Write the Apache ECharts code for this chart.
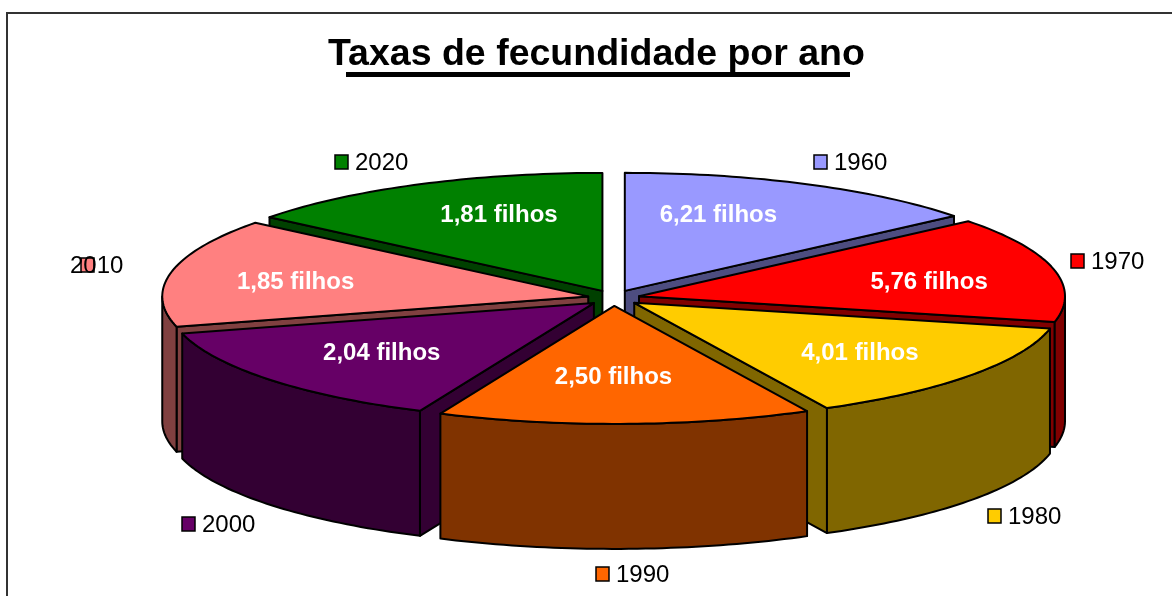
<!DOCTYPE html>
<html>
<head>
<meta charset="utf-8">
<title>Taxas de fecundidade por ano</title>
<style>
  html, body { margin: 0; padding: 0; background: #fff; }
  #chart { width: 1172px; height: 596px; }
</style>
<script src="https://cdn.jsdelivr.net/npm/echarts@6/dist/echarts.min.js"></script>
</head>
<body>
<div id="chart"></div>
<script>
// dados
const years = ['1960', '1970', '1980', '1990', '2000', '2010', '2020']
const rates = [6.21, 5.76, 4.01, 2.50, 2.04, 1.85, 1.81]
// no original as fatias têm quase o mesmo tamanho, não seguem a taxa (graus)
const shares = [50.6, 52, 50.5, 51, 51, 53.5, 51.4]

// cores
const topColors = ['#9999ff', '#ff0000', '#ffcc00', '#ff6600', '#660066', '#ff8080', '#008000']
const sideColors = ['#4d4d80', '#800000', '#806600', '#803300', '#330033', '#804040', '#004000']

// geometria da pizza
const cx = 613.7
const cy = 298
const rx = 426
const ry = 118
const depth = 125
const explodeX = 26
const explodeY = 7.9

// posição dos rótulos dentro da fatia (fração do raio)
const labelFx = [0.514, 0.70, 0.671, -0.08, 0.654, 0.702, 0.56]
const labelFy = [0.72, 0.544, 0.684, 0.598, 0.644, 0.61, 0.72]
// posição das legendas soltas (quadrado)
const keyPos = [[814, 155], [1071, 254], [988, 509], [596, 567], [182, 517], [81, 258], [335, 155]]

const total = shares.reduce((a, b) => a + b, 0)
const slices = []
let acc = 0
shares.forEach((s, i) => {
  const a0 = acc / total * Math.PI * 2
  acc += s
  const a1 = acc / total * Math.PI * 2
  slices.push({ i, a0, a1, mid: (a0 + a1) / 2 })
})
// desenha de trás para frente
const drawOrder = slices.slice().sort((p, q) => Math.cos(q.mid) - Math.cos(p.mid))

function arcPoints(tip, a0, a1, dy) {
  const pts = []
  const n = Math.max(2, Math.ceil((a1 - a0) / 0.02))
  for (let k = 0; k <= n; k++) {
    const a = a0 + (a1 - a0) * k / n
    pts.push([tip[0] + rx * Math.sin(a), tip[1] - ry * Math.cos(a) + dy])
  }
  return pts
}

function poly(points, fill) {
  return {
    type: 'polygon',
    shape: { points },
    style: { fill, stroke: '#000', lineWidth: 2, lineJoin: 'round' }
  }
}

function wall(tip, a, fill) {
  const p = [tip[0] + rx * Math.sin(a), tip[1] - ry * Math.cos(a)]
  return poly([tip, p, [p[0], p[1] + depth], [tip[0], tip[1] + depth]], fill)
}

function renderSlice(params, api) {
  const s = drawOrder[api.value(0)]
  const i = s.i
  const tip = [cx + explodeX * Math.sin(s.mid), cy - explodeY * Math.cos(s.mid)]
  const children = []

  // paredes internas que ficam viradas para quem olha
  if (Math.sin(s.a1) > 0) children.push(wall(tip, s.a1, sideColors[i]))
  if (Math.sin(s.a0) < 0) children.push(wall(tip, s.a0, sideColors[i]))

  // parede externa: só a parte da frente (90° a 270°)
  const from = Math.max(s.a0, Math.PI / 2)
  const to = Math.min(s.a1, Math.PI * 1.5)
  if (to > from) {
    const upper = arcPoints(tip, from, to, 0)
    const lower = arcPoints(tip, from, to, depth).reverse()
    children.push(poly(upper.concat(lower), sideColors[i]))
  }

  // tampo
  children.push(poly([tip].concat(arcPoints(tip, s.a0, s.a1, 0)), topColors[i]))

  children.push({
    type: 'text',
    z2: 10,
    style: {
      x: tip[0] + rx * Math.sin(s.mid) * labelFx[i],
      y: tip[1] - ry * Math.cos(s.mid) * labelFy[i] + 1,
      text: rates[i].toFixed(2).replace('.', ',') + ' filhos',
      fill: '#fff',
      font: 'bold 24px "Liberation Sans", Arial, sans-serif',
      align: 'center',
      verticalAlign: 'middle'
    }
  })

  return { type: 'group', children }
}

const legendItems = []
years.forEach((y, i) => {
  legendItems.push({
    type: 'rect',
    z: 20,
    shape: { x: keyPos[i][0], y: keyPos[i][1], width: 13, height: 14 },
    style: { fill: topColors[i], stroke: '#000', lineWidth: 1.5 }
  })
  legendItems.push({
    type: 'text',
    z: 21,
    style: {
      x: keyPos[i][0] + (i === 5 ? -11 : 20),
      y: keyPos[i][1] + 8,
      text: y,
      fill: '#000',
      font: '24px "Liberation Sans", Arial, sans-serif',
      verticalAlign: 'middle'
    }
  })
})

const chart = echarts.init(document.getElementById('chart'), null, { renderer: 'canvas' })
chart.setOption({
  animation: false,
  backgroundColor: '#fff',
  title: {
    text: 'Taxas de fecundidade por ano',
    left: 323,
    top: 31,
    textStyle: {
      color: '#000',
      fontFamily: '"Liberation Sans", Arial, sans-serif',
      fontWeight: 'bold',
      fontSize: 37.5
    }
  },
  graphic: [
    {
      type: 'rect',
      z: -1,
      shape: { x: 7, y: 13, width: 1300, height: 800 },
      style: { fill: 'transparent', stroke: '#333', lineWidth: 2 }
    },
    {
      type: 'rect',
      shape: { x: 346, y: 72, width: 504, height: 5 },
      style: { fill: '#000' }
    }
  ].concat(legendItems),
  series: [{
    type: 'custom',
    coordinateSystem: 'none',
    silent: true,
    data: drawOrder.map((s, k) => [k]),
    renderItem: renderSlice
  }]
})
window.addEventListener('resize', () => chart.resize())
</script>
</body>
</html>
